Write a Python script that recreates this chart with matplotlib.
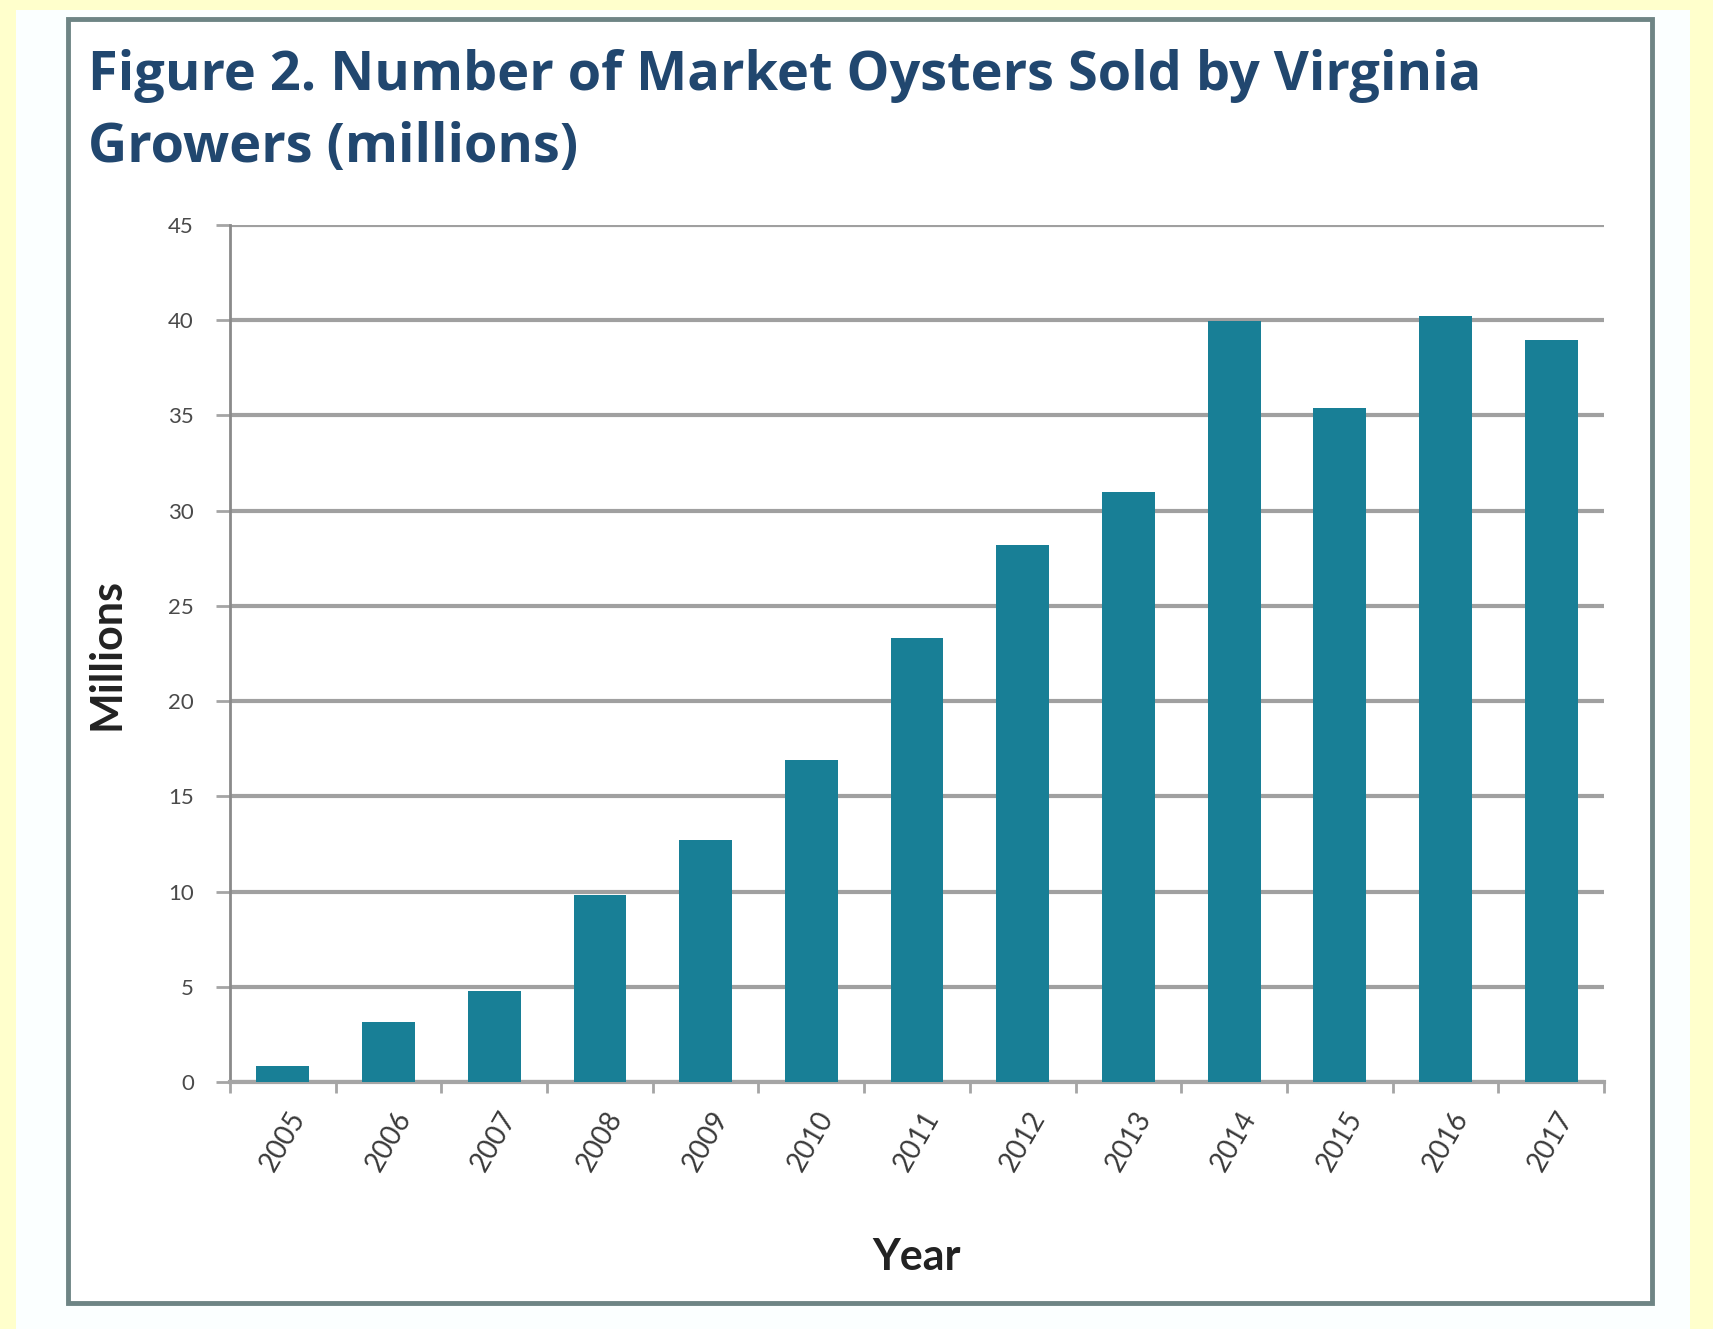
import numpy as np
import matplotlib.pyplot as plt
from matplotlib.patches import Rectangle

years = ["2005", "2006", "2007", "2008", "2009", "2010", "2011",
         "2012", "2013", "2014", "2015", "2016", "2017"]
oysters = [0.85, 3.15, 4.8, 9.8, 12.7, 16.9, 23.3,
           28.2, 31.0, 39.95, 35.4, 40.2, 38.95]
y_ticks = [0, 5, 10, 15, 20, 25, 30, 35, 40, 45]

W, H = 1713, 1329
fig = plt.figure(figsize=(W / 100, H / 100), dpi=100, facecolor="#ffffcc")

# white card on the yellow page, with the grey frame
fig.patches.append(Rectangle((16 / W, 0), (1690 - 16) / W, 1 - 10 / H,
                             transform=fig.transFigure, facecolor="#fbffff",
                             edgecolor="none", zorder=0))
fig.patches.append(Rectangle((68 / W, 1 - 1303 / H), (1652 - 68) / W,
                             (1303 - 19) / H, transform=fig.transFigure,
                             facecolor="white", edgecolor="#6e8585",
                             linewidth=3.5, zorder=1))

title_kw = dict(fontfamily="Open Sans", fontweight="bold", color="#21476f",
                fontsize=39, ha="left", va="baseline")
fig.text(88 / W, 1 - 90 / H,
         "Figure 2. Number of Market Oysters Sold by Virginia", **title_kw)
fig.text(88 / W, 1 - 162 / H, "Growers (millions)", **title_kw)

ax = fig.add_axes([230 / W, 1 - 1082 / H, (1604 - 230) / W, (1082 - 225) / H])
ax.set_zorder(3)
ax.set_facecolor("white")
x = np.arange(len(years))
ax.bar(x, oysters, width=0.5, color="#187f96", zorder=3)

ax.set_xlim(-0.5, len(years) - 0.5)
ax.set_ylim(0, 45)
ax.set_yticks(y_ticks)
ax.yaxis.grid(True, color="#a0a0a0", linewidth=3, zorder=0)
ax.set_axisbelow(True)
for side in ["top", "right"]:
    ax.spines[side].set_visible(False)
ax.spines["left"].set_color("#8a8a8a")
ax.spines["left"].set_linewidth(2)
ax.spines["bottom"].set_color("#a5a5a5")
ax.spines["bottom"].set_linewidth(3)

ax.tick_params(axis="y", length=10, width=2, color="#a5a5a5",
               labelsize=16, labelcolor="#4a4a4a", pad=16)
ax.set_yticklabels([str(v) for v in y_ticks], fontfamily="Lato")
ax.set_xticks(x)
ax.set_xticklabels(years, rotation=60, fontfamily="Lato", fontsize=20,
                   color="#3a3a3a", ha="center", va="top")
ax.tick_params(axis="x", length=0, pad=18)
ax.set_xticks(np.arange(-0.5, len(years)), minor=True)
ax.tick_params(axis="x", which="minor", length=8, width=2, color="#a5a5a5")

ax.set_xlabel("Year", fontfamily="Lato", fontweight="bold", fontsize=31,
              color="#222222", labelpad=44)
ax.set_ylabel("Millions", fontfamily="Lato", fontweight="bold", fontsize=31,
              color="#222222", labelpad=30)

fig.savefig("out.png", dpi=100, facecolor=fig.get_facecolor())
